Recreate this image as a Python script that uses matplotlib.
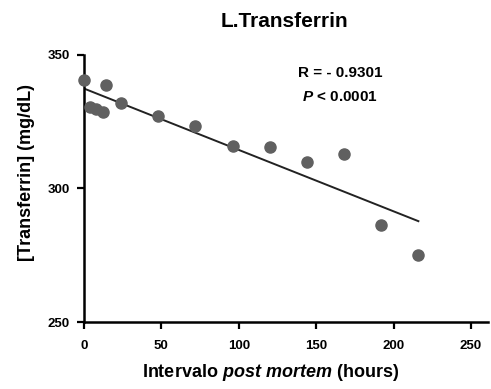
import numpy as np
import matplotlib
matplotlib.use('Agg')
import matplotlib.pyplot as plt

# data
hours = [0, 4, 8, 12, 14, 24, 48, 72, 96, 120, 144, 168, 192, 216]
transferrin = [340.6, 330.5, 329.8, 328.6, 338.8, 332.0, 327.2, 323.4,
               316.0, 315.5, 310.0, 313.0, 286.3, 275.0]
x_ticks = [0, 50, 100, 150, 200, 250]
y_ticks = [250, 300, 350]

plt.rcParams['font.family'] = 'Liberation Sans'
plt.rcParams['font.weight'] = 'bold'
plt.rcParams['mathtext.fontset'] = 'custom'
plt.rcParams['mathtext.it'] = 'Liberation Sans:italic:bold'
plt.rcParams['mathtext.rm'] = 'Liberation Sans:bold'

fig = plt.figure(figsize=(4.91, 3.89), dpi=100)
ax = fig.add_axes([0.171, 0.172, 0.823, 0.687])

ax.plot(hours, transferrin, 'o', color='#606060', markersize=8, zorder=3,
        clip_on=False)

# linear regression line over the data range
slope, intercept = np.polyfit(hours, transferrin, 1)
xs = np.array([min(hours), max(hours)])
ax.plot(xs, slope * xs + intercept, color='#222222', linewidth=1.4)

ax.set_xlim(0, 261)
ax.set_ylim(250, 350)
ax.set_xticks(x_ticks)
ax.set_yticks(y_ticks)

for side in ['top', 'right']:
    ax.spines[side].set_visible(False)
for side in ['left', 'bottom']:
    ax.spines[side].set_linewidth(1.8)
ax.tick_params(direction='out', length=5, width=1.6, labelsize=9.5)
ax.tick_params(axis='x', pad=8)
ax.tick_params(axis='y', pad=5)
for lab in ax.get_xticklabels() + ax.get_yticklabels():
    lab.set_fontweight('bold')

ax.set_title('L.Transferrin', fontsize=15, fontweight='bold', y=1.105, pad=0,
             x=0.495)
ax.set_xlabel(r'Intervalo $post\ mortem$ (hours)', fontsize=13,
              fontweight='bold')
ax.xaxis.set_label_coords(0.463, -0.15)
ax.set_ylabel('[Transferrin] (mg/dL)', fontsize=13, fontweight='bold')
ax.yaxis.set_label_coords(-0.12, 0.56)

ax.text(0.634, 0.933, 'R = - 0.9301', transform=ax.transAxes, fontsize=11,
        fontweight='bold', ha='center', va='center')
ax.text(0.634, 0.843, r'$P$ < 0.0001', transform=ax.transAxes, fontsize=11,
        fontweight='bold', ha='center', va='center')

plt.savefig('out.png', dpi=100)
plt.close()
